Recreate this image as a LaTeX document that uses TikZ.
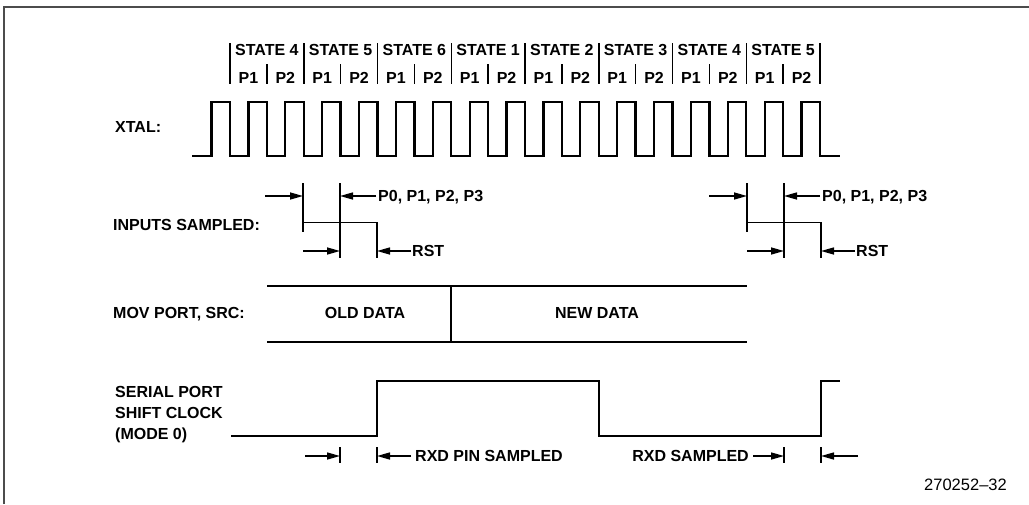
\documentclass[tikz,border=0pt]{standalone}
\usepackage{fontspec}
\setmainfont{Liberation Sans}
\usetikzlibrary{arrows.meta}
\begin{document}
\begin{tikzpicture}[x=1pt,y=-1pt,
  lbl/.style={font=\fontsize{16}{19}\selectfont\bfseries, inner sep=0pt, text height=11.5pt, text depth=0pt},
  wave/.style={line width=2.3pt, line join=miter, line cap=butt},
  tick/.style={line width=1.5pt},
  arr/.style={line width=1.5pt, -{Triangle[length=13pt,width=7pt]}},
  frame/.style={line width=2pt, draw=black!70},
]
\useasboundingbox (0,0) rectangle (1029,504);
% frame
\draw[frame] (4,504) -- (4,6.5) -- (1029,6.5);

% state header
\foreach \i in {0,...,8}{
  \draw[tick] ({230+\i*73.75},43) -- ({230+\i*73.75},84);
}
\foreach \i in {0,...,7}{
  \draw[tick] ({266.875+\i*73.75},64) -- ({266.875+\i*73.75},84);
}
\foreach \s [count=\i from 0] in {4,5,6,1,2,3,4,5}{
  \node[lbl] (st\i) at ({266.875+\i*73.75},50) {STATE \s};
  \node[lbl] (pa\i) at ({248.44+\i*73.75},78) {P1};
  \node[lbl] (pb\i) at ({285.31+\i*73.75},78) {P2};
}

% XTAL
\node[lbl,anchor=west] (xtal) at (115,127) {XTAL:};
\draw[wave] (192,156) foreach \k in {0,...,16}{
  -- ({211.56+\k*36.875},156) -- ({211.56+\k*36.875},102)
  -- ({230+\k*36.875},102) -- ({230+\k*36.875},156) } -- (840,156);

% INPUTS SAMPLED
\node[lbl,anchor=west] (ins) at (113,225) {INPUTS SAMPLED:};
\foreach \o/\n in {0/L,444/R}{
 \begin{scope}[xshift=\o pt]
  \draw[tick] (303,183) -- (303,232);
  \draw[tick] (340,183) -- (340,258);
  \draw[tick] (377,222) -- (377,258);
  \draw[tick] (303,222.5) -- (377,222.5);
  \coordinate (\n a) at (265,196);
  \draw[arr] (\n a) -- (303,196);
  \node[lbl,anchor=west] (\n p) at (378,196) {P0, P1, P2, P3};
  \draw[arr] ([xshift=-2pt]\n p.west) -- (340,196);
  \coordinate (\n b) at (303,251);
  \draw[arr] (\n b) -- (340,251);
  \node[lbl,anchor=west] (\n r) at (412,251) {RST};
  \draw[arr] ([xshift=-1pt]\n r.west) -- (377,251);
 \end{scope}
}

% MOV PORT
\node[lbl,anchor=west] (mov) at (113,313) {MOV PORT, SRC:};
\draw[wave] (267,286) -- (747,286);
\draw[wave] (267,342) -- (747,342);
\draw[line width=1.8pt] (451,286) -- (451,342);
\node[lbl] (old) at (365,313) {OLD DATA};
\node[lbl] (new) at (597,313) {NEW DATA};

% SERIAL PORT
\node[lbl,anchor=west] (s1) at (115,392) {SERIAL PORT};
\node[lbl,anchor=west] (s2) at (115,413) {SHIFT CLOCK};
\node[lbl,anchor=west] (s3) at (115,434) {(MODE 0)};
\draw[wave] (231,436) -- (377,436) -- (377,381) -- (599,381) -- (599,436)
  -- (821,436) -- (821,381) -- (840,381);

% bottom markers
\draw[tick] (340,447) -- (340,463);
\draw[tick] (377,447) -- (377,463);
\coordinate (c1) at (305,456);
\draw[arr] (c1) -- (340,456);
\node[lbl,anchor=west] (rxdpin) at (415,456) {RXD PIN SAMPLED};
\draw[arr] ([xshift=-4pt]rxdpin.west) -- (377,456);
\draw[tick] (784,447) -- (784,463);
\draw[tick] (821,447) -- (821,463);
\node[lbl,anchor=east] (rxds) at (749,456) {RXD SAMPLED};
\draw[arr] ([xshift=4pt]rxds.east) -- (784,456);
\coordinate (c2) at (858,456);
\draw[arr] (c2) -- (821,456);

% figure number
\node[font=\fontsize{16.5}{19}\selectfont, anchor=east, inner sep=0pt] (fig) at (1007,485) {270252–32};
\end{tikzpicture}
\end{document}
